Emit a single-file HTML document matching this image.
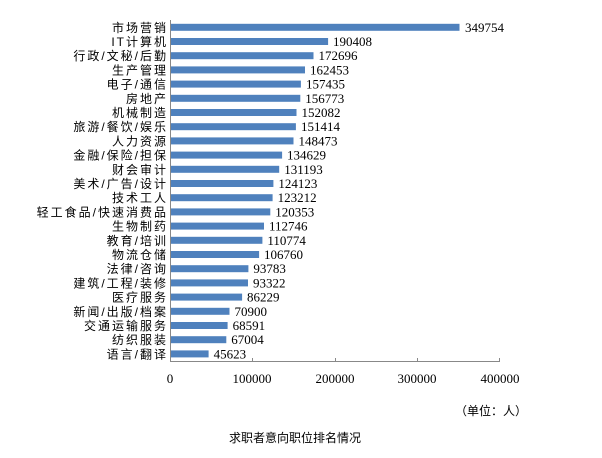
<!DOCTYPE html><html><head><style>body{margin:0;background:#fff}</style></head><body>
<svg width="602" height="453" xmlns="http://www.w3.org/2000/svg" font-family="'Liberation Serif','Noto Sans CJK SC',serif" font-size="12">
<g fill="#4f81bd">
<rect x="171" y="23.8" width="288.5" height="7"/>
<rect x="171" y="38" width="157.1" height="7"/>
<rect x="171" y="52.2" width="142.5" height="7"/>
<rect x="171" y="66.4" width="134" height="7"/>
<rect x="171" y="80.6" width="129.9" height="7"/>
<rect x="171" y="94.8" width="129.3" height="7"/>
<rect x="171" y="109" width="125.5" height="7"/>
<rect x="171" y="123.2" width="124.9" height="7"/>
<rect x="171" y="137.4" width="122.5" height="7"/>
<rect x="171" y="151.6" width="111.1" height="7"/>
<rect x="171" y="165.8" width="108.2" height="7"/>
<rect x="171" y="180" width="102.4" height="7"/>
<rect x="171" y="194.2" width="101.6" height="7"/>
<rect x="171" y="208.4" width="99.3" height="7"/>
<rect x="171" y="222.6" width="93" height="7"/>
<rect x="171" y="236.8" width="91.4" height="7"/>
<rect x="171" y="251" width="88.1" height="7"/>
<rect x="171" y="265.2" width="77.4" height="7"/>
<rect x="171" y="279.4" width="77" height="7"/>
<rect x="171" y="293.6" width="71.1" height="7"/>
<rect x="171" y="307.8" width="58.5" height="7"/>
<rect x="171" y="322" width="56.6" height="7"/>
<rect x="171" y="336.2" width="55.3" height="7"/>
<rect x="171" y="350.4" width="37.6" height="7"/>
</g>
<g font-size="13" transform="translate(1,0)">
<text x="464" y="31.8">349754</text>
<text x="332" y="46">190408</text>
<text x="317.5" y="60.2">172696</text>
<text x="309" y="74.4">162453</text>
<text x="305" y="88.6">157435</text>
<text x="304.3" y="102.8">156773</text>
<text x="300.5" y="117">152082</text>
<text x="300" y="131.2">151414</text>
<text x="297.5" y="145.4">148473</text>
<text x="286" y="159.6">134629</text>
<text x="283.2" y="173.8">131193</text>
<text x="277.4" y="188">124123</text>
<text x="276.6" y="202.2">123212</text>
<text x="274.3" y="216.4">120353</text>
<text x="268" y="230.6">112746</text>
<text x="266.4" y="244.8">110774</text>
<text x="263" y="259">106760</text>
<text x="252.4" y="273.2">93783</text>
<text x="252" y="287.4">93322</text>
<text x="246" y="301.6">86229</text>
<text x="233.5" y="315.8">70900</text>
<text x="231.6" y="330">68591</text>
<text x="230.3" y="344.2">67004</text>
<text x="212.6" y="358.4">45623</text>
</g>
<g font-family="'Liberation Sans','Noto Sans CJK SC',sans-serif" font-size="12" text-anchor="end" letter-spacing="2">
<text x="168" y="31.8">市场营销</text>
<text x="168" y="46">IT计算机</text>
<text x="168" y="60.2">行政/文秘/后勤</text>
<text x="168" y="74.4">生产管理</text>
<text x="168" y="88.6">电子/通信</text>
<text x="168" y="102.8">房地产</text>
<text x="168" y="117">机械制造</text>
<text x="168" y="131.2">旅游/餐饮/娱乐</text>
<text x="168" y="145.4">人力资源</text>
<text x="168" y="159.6">金融/保险/担保</text>
<text x="168" y="173.8">财会审计</text>
<text x="168" y="188">美术/广告/设计</text>
<text x="168" y="202.2">技术工人</text>
<text x="168" y="216.4">轻工食品/快速消费品</text>
<text x="168" y="230.6">生物制药</text>
<text x="168" y="244.8">教育/培训</text>
<text x="168" y="259">物流仓储</text>
<text x="168" y="273.2">法律/咨询</text>
<text x="168" y="287.4">建筑/工程/装修</text>
<text x="168" y="301.6">医疗服务</text>
<text x="168" y="315.8">新闻/出版/档案</text>
<text x="168" y="330">交通运输服务</text>
<text x="168" y="344.2">纺织服装</text>
<text x="168" y="358.4">语言/翻译</text>
</g>
<line x1="170.5" y1="20" x2="170.5" y2="361" stroke="#888"/>
<line x1="170" y1="361.5" x2="500" y2="361.5" stroke="#888"/>
<g stroke="#888">
<line x1="252.5" y1="358" x2="252.5" y2="361"/><line x1="335.5" y1="358" x2="335.5" y2="361"/><line x1="417.5" y1="358" x2="417.5" y2="361"/><line x1="499.5" y1="358" x2="499.5" y2="361"/>
</g>
<g font-family="'Liberation Serif',serif" font-size="13" text-anchor="middle">
<text x="170" y="383">0</text><text x="252" y="383">100000</text><text x="335" y="383">200000</text><text x="417" y="383">300000</text><text x="500" y="383">400000</text></g>
<text x="455" y="415" font-family="'Noto Sans CJK SC',sans-serif" font-size="12">（单位：人）</text>
<text x="295" y="442" text-anchor="middle" font-family="'Noto Sans CJK SC',sans-serif" font-size="12">求职者意向职位排名情况</text>
</svg></body></html>
